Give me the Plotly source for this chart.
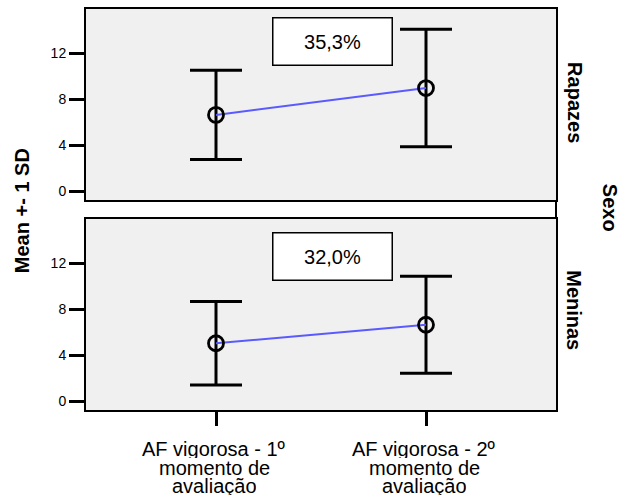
import plotly.graph_objects as go

# Mean +- 1 SD of vigorous physical activity, by sex and assessment moment
category_lines = [
    ["AF vigorosa - 1º", "momento de", "avaliação"],
    ["AF vigorosa - 2º", "momento de", "avaliação"],
]
groups = ["Rapazes", "Meninas"]

means_rapazes = [6.63, 8.97]
sd_rapazes = [3.89, 5.12]

means_meninas = [5.03, 6.64]
sd_meninas = [3.64, 4.23]

y_tickvals = [0, 4, 8, 12]

FONT = "Liberation Sans, Arial, sans-serif"
x_pos = list(range(len(category_lines)))


def pct_label(means):
    change = (means[1] / means[0] - 1) * 100
    return f"{change:.1f}%".replace(".", ",")


fig = go.Figure()

panels = [
    (means_rapazes, sd_rapazes, "x", "y"),
    (means_meninas, sd_meninas, "x2", "y2"),
]
for means, sds, xa, ya in panels:
    fig.add_trace(go.Scatter(
        x=x_pos, y=means, xaxis=xa, yaxis=ya,
        mode="lines+markers",
        line=dict(color="#5a5aff", width=2),
        marker=dict(symbol="circle-open", size=15, color="black",
                    line=dict(width=2.8, color="black")),
        error_y=dict(type="data", array=sds, symmetric=True,
                     color="black", thickness=3, width=26),
        showlegend=False, hoverinfo="skip",
    ))

x_range = [-0.619, 1.619]
y_range = [-0.78, 15.85]

axis_common = dict(showline=True, mirror=True, linecolor="black", linewidth=2,
                   showgrid=False, zeroline=False)
yaxis_common = dict(range=y_range, tickvals=y_tickvals, ticks="outside",
                    ticklen=15, tickwidth=2.5, tickcolor="black",
                    ticksuffix="\u00a0",
                    tickfont=dict(size=14, family=FONT, color="black"),
                    **axis_common)

fig.update_layout(
    width=625, height=499,
    margin=dict(l=86, r=69, t=7, b=89),
    paper_bgcolor="white",
    plot_bgcolor="#f0f0f0",
    font=dict(family=FONT, color="black"),
    xaxis=dict(domain=[0, 1], anchor="y", range=x_range, tickvals=x_pos,
               showticklabels=False, ticks="", **axis_common),
    xaxis2=dict(domain=[0, 1], anchor="y2", range=x_range, tickvals=x_pos,
                showticklabels=False, ticks="outside", ticklen=14,
                tickwidth=2.5, tickcolor="black", **axis_common),
    yaxis=dict(domain=[0.5236, 1], anchor="x", **yaxis_common),
    yaxis2=dict(domain=[0, 0.4764], anchor="x2", **yaxis_common),
)

# right frame runs continuously through the gap between panels
fig.add_shape(type="line", xref="paper", yref="paper",
              x0=1, x1=1, y0=0.4764, y1=0.5236,
              line=dict(color="black", width=2))

annotations = []

# percentage change boxes
box_y = [0.918, 0.382]
for (means, _, _, _), by in zip(panels, box_y):
    annotations.append(dict(
        xref="paper", yref="paper", x=0.5255, y=by,
        text=pct_label(means), showarrow=False,
        font=dict(size=20, family=FONT, color="black"),
        bgcolor="white", bordercolor="black", borderwidth=1.5,
        borderpad=1, width=116, height=44,
        xanchor="center", yanchor="middle",
    ))

# panel (row) labels
row_y = [0.767, 0.248]
for g, ry in zip(groups, row_y):
    annotations.append(dict(
        xref="paper", yref="paper", x=1.039, y=ry, text=f"<b>{g}</b>",
        showarrow=False, textangle=90,
        font=dict(size=20, family=FONT, color="black"),
        xanchor="center", yanchor="middle",
    ))
annotations.append(dict(
    xref="paper", yref="paper", x=1.115, y=0.504, text="<b>Sexo</b>",
    showarrow=False, textangle=90,
    font=dict(size=20, family=FONT, color="black"),
    xanchor="center", yanchor="middle",
))

# y-axis title
annotations.append(dict(
    xref="paper", yref="paper", x=-0.136, y=0.496, text="<b>Mean +- 1 SD</b>",
    showarrow=False, textangle=-90,
    font=dict(size=20, family=FONT, color="black"),
    xanchor="center", yanchor="middle",
))

# category labels, one annotation per line for tight leading
line_offsets = [-38.5, -57.5, -75.5]
for xi, lines in zip(x_pos, category_lines):
    for line, off in zip(lines, line_offsets):
        annotations.append(dict(
            xref="x2", yref="paper", x=xi, y=0, yshift=off,
            text=line, showarrow=False, height=18,
            font=dict(size=20, family=FONT, color="black"),
            xanchor="center", yanchor="middle", xshift=-2,
        ))

fig.update_layout(annotations=annotations)

fig.write_html("out.html")
